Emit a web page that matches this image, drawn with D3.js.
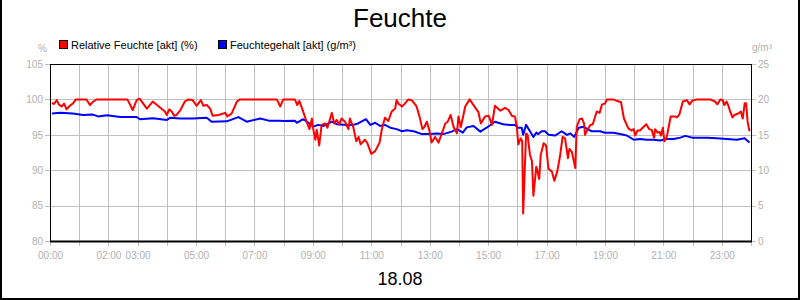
<!DOCTYPE html>
<html>
<head>
<meta charset="utf-8">
<script src="https://cdn.jsdelivr.net/npm/d3@7"></script>
<style>
  html, body { margin: 0; padding: 0; background: #fff; }
  svg { display: block; font-family: "Liberation Sans", Arial, sans-serif; }
</style>
</head>
<body>
<svg id="chart" width="800" height="300"></svg>
<script>
// ---- data (time in minutes since 00:00) ----
const title = "Feuchte";
const dateLabel = "18.08";
const seriesNames = ["Relative Feuchte [akt] (%)", "Feuchtegehalt [akt] (g/m³)"];
const leftTicks = [80, 85, 90, 95, 100, 105];
const rightTicks = [0, 5, 10, 15, 20, 25];
const xLabelHours = [0, 2, 3, 5, 7, 9, 11, 13, 15, 17, 19, 21, 23];

const redTimes = [4,8,14,18,24,29,34,41,48,53,75,82,89,96,159,170,178,184,199,211,236,240,245,250,255,260,267,277,284,293,301,310,315,322,329,334,346,360,364,373,384,390,466,473,479,503,508,512,518,527,533,538,540,545,548,553,558,565,570,579,584,589,594,599,606,613,616,623,629,634,638,647,652,660,668,677,682,688,695,702,709,712,716,723,729,736,743,753,759,765,769,774,779,784,791,798,805,812,817,823,829,836,839,844,853,862,870,875,880,885,894,901,908,914,925,935,942,949,955,959,962,967,970,972,978,981,986,990,993,999,1001,1005,1008,1014,1019,1024,1031,1036,1042,1048,1053,1058,1064,1067,1072,1079,1082,1088,1093,1097,1099,1104,1110,1115,1123,1129,1134,1140,1144,1157,1164,1173,1179,1188,1195,1199,1202,1207,1212,1219,1225,1231,1236,1241,1243,1248,1252,1255,1259,1262,1267,1273,1275,1284,1288,1293,1300,1308,1314,1319,1329,1356,1366,1371,1377,1382,1385,1390,1394,1397,1402,1406,1414,1419,1423,1427,1430,1433,1437];
const redValues = [99.5,99.35,99.9,99.3,99.0,99.4,98.6,99.1,99.5,100,100,99.2,99.7,100,100,98.5,99.9,100.1,98.7,99.7,98.3,97.8,98.6,98.3,97.7,97.8,98.4,99.7,100,99.9,99.1,99.9,99.1,99.2,98.7,97.7,97.8,98.1,97.6,98.0,99.7,100,100,99.0,100,100,99.2,99.8,98.7,96.85,95.8,97.3,96.1,94.3,95.7,93.5,96.4,96.6,96.0,98.1,96.6,97.1,96.5,97.3,96.85,95.8,97.3,96.1,94.1,94.7,93.65,94.3,93.8,92.3,92.7,93.9,95.9,97.4,96.95,98.3,98.7,99.9,99.4,99.0,99.4,100,99.9,99.0,97.6,95.8,96.1,96.85,95.7,93.9,94.7,93.9,95.2,96.6,96.85,97.8,96.1,95.2,97.6,96.1,99.0,100,99.2,98.7,98.2,96.6,97.6,97.7,96.4,99.1,98.4,98.8,98.5,97.65,97.6,96.1,93.65,94.5,94.1,83.9,95.2,95.0,92.15,91.3,86.4,90.5,90.0,88.75,92.15,93.8,93.5,90.2,89.8,88.5,89.8,92.15,94.7,94.5,91.7,93.0,92.6,90.3,96.1,97.2,97.3,96.6,95.0,95.7,96.4,96.5,98.3,98.1,99.3,99.4,100,100,99.8,99.6,97.3,95.9,95.6,95.8,94.9,95.6,95.6,96.1,96.5,95.8,95.7,94.6,95.8,95.3,95.4,94.9,96.0,94.1,94.7,96.85,97.6,97.6,97.45,97.9,99.7,99.9,99.3,99.8,100,100,99.7,99.3,100,99.9,99.2,99.7,99.0,98.35,97.45,97.8,98.0,98.3,97.3,99.45,99.45,96.85,95.5];

const blueTimes = [4,21,47,68,88,99,117,144,178,185,212,240,247,267,294,322,332,363,387,404,432,449,473,479,503,507,520,531,541,551,562,579,589,610,623,633,649,658,668,678,688,699,712,723,733,747,764,777,795,808,825,836,848,856,870,884,897,914,931,945,955,962,969,972,978,986,993,999,1003,1010,1017,1024,1038,1051,1062,1069,1077,1086,1096,1104,1113,1130,1140,1157,1171,1185,1199,1212,1226,1240,1253,1267,1281,1295,1305,1319,1336,1349,1370,1390,1411,1427,1432,1437];
const blueValues = [18.0,18.1,18.0,17.8,17.85,17.6,17.75,17.5,17.5,17.2,17.35,17.1,17.4,17.3,17.3,17.4,16.85,16.9,17.5,16.85,17.3,17.0,17.0,16.95,17.0,16.7,17.2,16.7,16.15,16.4,16.25,16.85,16.5,16.4,16.4,16.6,17.2,16.4,16.7,16.25,16.4,16.0,15.8,15.5,15.65,15.5,15.1,15.1,15.2,15.1,15.45,15.8,15.3,16.05,16.25,15.45,16.0,16.85,16.5,16.4,16.4,16.0,16.0,15.0,16.4,15.5,14.7,15.3,15.1,15.5,15.5,15.0,14.9,15.5,15.0,15.2,14.7,16.0,16.15,15.8,15.5,15.5,15.3,15.3,15.1,14.9,14.3,14.4,14.3,14.3,14.2,14.4,14.4,14.6,14.85,14.6,14.6,14.6,14.5,14.4,14.3,14.5,14.2,13.9];

// ---- layout ----
const svg = d3.select("#chart");
const W = 800, H = 300;
const L = 50, R = 751, T = 64, B = 241;
const gridColor = "#c0c0c0";
const labelColor = "#b0b0b0";
const tickFont = 10;

const x = d3.scaleLinear().domain([0, 1440]).range([L, R]);
const yL = d3.scaleLinear().domain([80, 105]).range([B, T]);
const yR = d3.scaleLinear().domain([0, 25]).range([B, T]);

svg.append("rect").attr("width", W).attr("height", H).attr("fill", "#fff");

// outer border (left, right, bottom)
svg.append("path")
  .attr("d", `M1,0 V${H-1} H${W-1} V0`)
  .attr("fill", "none").attr("stroke", "#000").attr("stroke-width", 2);

// title
svg.append("text").attr("x", 400).attr("y", 27).attr("text-anchor", "middle")
  .attr("font-size", 26).attr("fill", "#000").text(title);
svg.append("text").attr("x", 400).attr("y", 285).attr("text-anchor", "middle")
  .attr("font-size", 18).attr("fill", "#000").text(dateLabel);

// legend
const legendX = [59, 218];
const legendColors = ["#ff0000", "#0000ff"];
seriesNames.forEach((n, i) => {
  svg.append("rect").attr("x", legendX[i] + 0.5).attr("y", 40.5).attr("width", 8).attr("height", 8)
    .attr("fill", legendColors[i]).attr("stroke", "#000").attr("stroke-width", 1);
  svg.append("text").attr("x", legendX[i] + 12).attr("y", 48.5)
    .attr("font-size", 11).attr("fill", "#000").text(n);
});

// unit labels
svg.append("text").attr("x", 47).attr("y", 52).attr("text-anchor", "end")
  .attr("font-size", tickFont).attr("fill", labelColor).text("%");
svg.append("text").attr("x", 752).attr("y", 51)
  .attr("font-size", tickFont).attr("fill", labelColor).text("g/m³");

// grid: horizontal
const hg = svg.append("g");
leftTicks.forEach(v => {
  const yy = Math.round(yL(v)) + 0.5;
  hg.append("line").attr("x1", L - 5).attr("x2", R + 5).attr("y1", yy).attr("y2", yy)
    .attr("stroke", gridColor).attr("stroke-width", 1);
});
// grid: vertical, hourly
d3.range(1, 25).forEach(h => {
  const xx = Math.round(x(h * 60)) + 0.5;
  hg.append("line").attr("x1", xx).attr("x2", xx).attr("y1", T).attr("y2", B + 5)
    .attr("stroke", gridColor).attr("stroke-width", 1);
});
hg.append("line").attr("x1", L + 0.5).attr("x2", L + 0.5).attr("y1", B).attr("y2", B + 5)
  .attr("stroke", gridColor);

// axes labels
const axL = d3.axisLeft(yL).tickValues(leftTicks).tickSize(0).tickPadding(7);
const gL = svg.append("g").attr("transform", `translate(${L},0)`).call(axL);
const axR = d3.axisRight(yR).tickValues(rightTicks).tickSize(0).tickPadding(7);
const gR = svg.append("g").attr("transform", `translate(${R},0)`).call(axR);
const axB = d3.axisBottom(x).tickValues(xLabelHours.map(h => h * 60)).tickSize(0).tickPadding(11)
  .tickFormat(m => String(m / 60).padStart(2, "0") + ":00");
const gB = svg.append("g").attr("transform", `translate(0,${B})`).call(axB);
[gL, gR, gB].forEach(g => {
  g.select(".domain").remove();
  g.selectAll("text").attr("fill", labelColor).attr("font-size", tickFont)
    .attr("font-family", "'Liberation Sans', Arial, sans-serif");
});

// series lines
const redData = redTimes.map((t, i) => [t, redValues[i]]);
const blueData = blueTimes.map((t, i) => [t, blueValues[i]]);
svg.append("path").datum(blueData)
  .attr("d", d3.line().x(d => x(d[0])).y(d => yR(d[1])))
  .attr("fill", "none").attr("stroke", "#0000ff").attr("stroke-width", 2).attr("stroke-linejoin", "round");
svg.append("path").datum(redData)
  .attr("d", d3.line().x(d => x(d[0])).y(d => yL(d[1])))
  .attr("fill", "none").attr("stroke", "#ff0000").attr("stroke-width", 2).attr("stroke-linejoin", "round");

// plot frame
svg.append("rect").attr("x", L + 0.5).attr("y", T + 0.5).attr("width", R - L).attr("height", B - T)
  .attr("fill", "none").attr("stroke", "#000").attr("stroke-width", 1);
svg.append("line").attr("x1", L).attr("x2", R + 1).attr("y1", B + 0.5).attr("y2", B + 0.5)
  .attr("stroke", "#000").attr("stroke-width", 2);
</script>
</body>
</html>
